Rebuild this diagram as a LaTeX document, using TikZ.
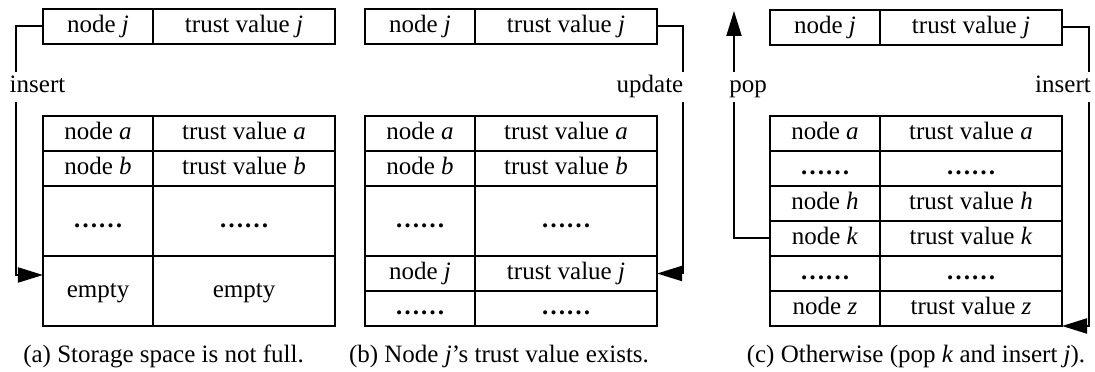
\documentclass[tikz,border=0pt]{standalone}
\usepackage{fontspec}
\setmainfont{Liberation Serif}
\usetikzlibrary{arrows.meta,calc}

\newcommand{\cdotsrow}{\textbf{……}}

\tikzset{
  cellL/.style={draw, line width=0.8pt, anchor=north west, minimum width=44pt,
    minimum height=14pt, inner sep=0pt, outer sep=0pt, text height=7pt, text depth=2pt},
  cellR/.style={cellL, minimum width=72.8pt},
  tall/.style={minimum height=28pt},
  lbl/.style={fill=white, anchor=base, inner xsep=1pt, inner ysep=1.5pt,
    text height=7pt, text depth=2pt},
  arr/.style={line width=0.8pt, -{Triangle[length=10pt,width=6pt]}}
}

\begin{document}
\begin{tikzpicture}[x=0.4pt, y=-0.4pt, every node/.style={font=\fontsize{10}{12}\selectfont}]
  \useasboundingbox (0,0) rectangle (1095,372);

  % (a) storage space is not full
  \node[cellL] (aj1) at (43,9) {node \textit{j}};
  \node[cellR] (aj2) at (153,9) {trust value \textit{j}};
  \node[cellL] (aa1) at (43,116) {node \textit{a}};
  \node[cellR] (aa2) at (153,116) {trust value \textit{a}};
  \node[cellL] (ab1) at (43,151) {node \textit{b}};
  \node[cellR] (ab2) at (153,151) {trust value \textit{b}};
  \node[cellL, tall] (ad1) at (43,186) {\cdotsrow};
  \node[cellR, tall] (ad2) at (153,186) {\cdotsrow};
  \node[cellL, tall] (ae1) at (43,256) {empty};
  \node[cellR, tall] (ae2) at (153,256) {empty};

  \coordinate (aIn) at (43,275);
  \draw[arr] (aj1.west) -| ($(aIn)+(-27,0)$) -- (aIn);
  \node[lbl] (insA) at (37.5,93) {insert};

  % (b) node j already stored
  \node[cellL] (bj1) at (365,9) {node \textit{j}};
  \node[cellR] (bj2) at (475,9) {trust value \textit{j}};
  \node[cellL] (ba1) at (365,116) {node \textit{a}};
  \node[cellR] (ba2) at (475,116) {trust value \textit{a}};
  \node[cellL] (bb1) at (365,151) {node \textit{b}};
  \node[cellR] (bb2) at (475,151) {trust value \textit{b}};
  \node[cellL, tall] (bd1) at (365,186) {\cdotsrow};
  \node[cellR, tall] (bd2) at (475,186) {\cdotsrow};
  \node[cellL] (bk1) at (365,256) {node \textit{j}};
  \node[cellR] (bk2) at (475,256) {trust value \textit{j}};
  \node[cellL] (be1) at (365,291) {\cdotsrow};
  \node[cellR] (be2) at (475,291) {\cdotsrow};

  \draw[arr] (bj2.east) -| ($(bk2.east)+(26,0)$) -- (bk2.east);
  \node[lbl] (updB) at (650,93) {update};

  % (c) otherwise: pop k, insert j
  \node[cellL] (cj1) at (770,10) {node \textit{j}};
  \node[cellR] (cj2) at (880,10) {trust value \textit{j}};
  \node[cellL] (ca1) at (770,116) {node \textit{a}};
  \node[cellR] (ca2) at (880,116) {trust value \textit{a}};
  \node[cellL] (cd1) at (770,151) {\cdotsrow};
  \node[cellR] (cd2) at (880,151) {\cdotsrow};
  \node[cellL] (ch1) at (770,186) {node \textit{h}};
  \node[cellR] (ch2) at (880,186) {trust value \textit{h}};
  \node[cellL] (ck1) at (770,221) {node \textit{k}};
  \node[cellR] (ck2) at (880,221) {trust value \textit{k}};
  \node[cellL] (ce1) at (770,256) {\cdotsrow};
  \node[cellR] (ce2) at (880,256) {\cdotsrow};
  \node[cellL] (cz1) at (770,291) {node \textit{z}};
  \node[cellR] (cz2) at (880,291) {trust value \textit{z}};

  \coordinate (cOut) at (734,11);
  \draw[arr] (ck1.west) -| (cOut);
  \node[lbl] (popC) at (748,93) {pop};
  \draw[arr] (cj2.east) -| ($(cz2.south east)+(27,0)$) -- (cz2.south east);
  \node[lbl] (insC) at (1063,93) {insert};

  % captions
  \node[anchor=base] (capA) at (163.5,363) {(a) Storage space is not full.};
  \node[anchor=base] (capB) at (499,363) {(b) Node \textit{j}’s trust value exists.};
  \node[anchor=base] (capC) at (916,363) {(c) Otherwise (pop \textit{k} and insert \textit{j}).};
\end{tikzpicture}
\end{document}
